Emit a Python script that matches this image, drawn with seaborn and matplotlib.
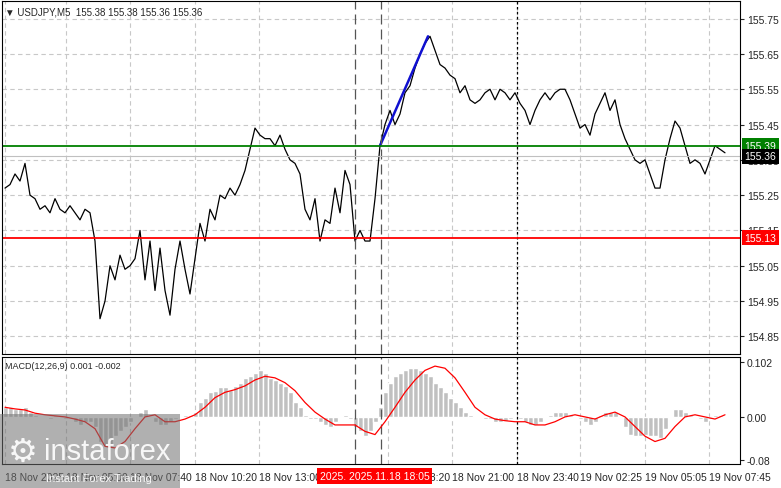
import matplotlib
matplotlib.use("Agg")
import matplotlib.pyplot as plt
import seaborn as sns
import numpy as np
import pandas as pd

price = [155.27,155.28,155.31,155.29,155.34,155.25,155.24,155.21,155.22,155.20,155.24,155.21,155.20,155.22,155.20,155.18,
         155.21,155.20,155.12,154.90,154.95,155.05,155.01,155.08,155.04,155.05,155.07,155.15,155.01,155.12,154.98,155.10,
         154.98,154.91,155.04,155.12,155.04,154.97,155.07,155.17,155.12,155.21,155.18,155.25,155.24,155.27,155.25,155.28,
         155.32,155.38,155.44,155.42,155.41,155.41,155.39,155.42,155.38,155.35,155.34,155.31,155.21,155.18,155.24,155.12,
         155.18,155.17,155.27,155.20,155.32,155.28,155.12,155.15,155.12,155.12,155.24,155.39,155.45,155.49,155.45,155.48,
         155.54,155.56,155.61,155.65,155.68,155.70,155.66,155.62,155.61,155.59,155.58,155.54,155.56,155.52,155.51,155.52,
         155.54,155.55,155.52,155.55,155.54,155.52,155.54,155.51,155.49,155.45,155.49,155.52,155.54,155.52,155.54,155.55,
         155.55,155.52,155.48,155.44,155.45,155.42,155.48,155.51,155.54,155.49,155.52,155.45,155.41,155.38,155.35,155.34,
         155.35,155.31,155.27,155.27,155.35,155.41,155.46,155.44,155.39,155.34,155.35,155.34,155.31,155.35,155.39,155.38,155.37]
hist = [0.018,0.018,0.015,0.015,0.018,0.009,0.004,0.0,0.0,-0.004,0.004,0.0,-0.004,0.0,-0.009,-0.015,-0.009,-0.009,-0.018,
        -0.046,-0.055,-0.055,-0.036,-0.027,-0.018,-0.009,0.0,0.009,0.015,0.0,-0.009,-0.015,-0.015,-0.009,-0.004,0.0,0.004,
        0.004,0.009,0.027,0.036,0.046,0.049,0.055,0.055,0.051,0.058,0.064,0.073,0.076,0.082,0.087,0.082,0.073,0.069,0.064,
        0.058,0.046,0.027,0.018,0.004,-0.004,-0.004,-0.009,-0.015,-0.018,-0.009,0.0,0.004,-0.004,-0.018,-0.027,-0.036,-0.027,
        -0.009,0.018,0.046,0.064,0.076,0.082,0.087,0.091,0.091,0.087,0.082,0.076,0.064,0.055,0.046,0.036,0.027,0.018,0.009,
        0.004,0.0,0.0,-0.004,-0.004,-0.009,-0.009,-0.007,-0.004,0.0,-0.004,-0.009,-0.015,-0.015,-0.009,0.0,0.004,0.009,0.009,
        0.009,0.004,0.0,-0.004,-0.009,-0.015,-0.009,0.004,0.009,0.009,0.009,0.0,-0.018,-0.033,-0.036,-0.036,-0.033,-0.036,
        -0.036,-0.040,-0.022,0.0,0.015,0.015,0.009,0.004,0.0,-0.004,-0.009,-0.004,0.004,0.004,0.002]
signal = [0.018,0.015,0.013,0.007,0.004,0.002,0.0,-0.004,-0.009,-0.022,-0.055,-0.058,-0.046,-0.022,0.0,0.004,-0.009,-0.009,
          -0.004,0.004,0.018,0.036,0.046,0.051,0.058,0.069,0.076,0.073,0.064,0.049,0.027,0.009,-0.004,-0.015,-0.015,-0.015,
          -0.027,-0.033,-0.009,0.018,0.046,0.069,0.087,0.095,0.091,0.073,0.046,0.018,0.004,-0.004,-0.007,-0.009,-0.009,
          -0.015,-0.015,-0.009,0.0,0.004,0.0,-0.004,0.004,0.009,0.0,-0.018,-0.036,-0.046,-0.040,-0.018,0.0,0.004,0.0,-0.004,0.004]
tick_labels = ["18 Nov 2025","18 Nov 05:00","18 Nov 07:40","18 Nov 10:20","18 Nov 13:00","18 Nov 18:20",
               "18 Nov 21:00","18 Nov 23:40","19 Nov 02:25","19 Nov 05:05","19 Nov 07:45"]
tick_idx = [0,12.2,25,38,50.8,76.6,89.4,102.4,115,128,140.8]
price_ticks = [154.85,154.95,155.05,155.15,155.25,155.35,155.45,155.55,155.65,155.75]

sns.set_style("white")
plt.rcParams['font.family'] = ['Liberation Sans', 'DejaVu Sans']
FS = 7.5
W, H = 781, 489
fig = plt.figure(figsize=(7.81, 4.89), dpi=100)
ax = fig.add_axes([2/W, (H-355)/H, 738/W, 353/H])
ax2 = fig.add_axes([2/W, (H-465)/H, 738/W, 107/H])

df = pd.DataFrame({"i": np.arange(len(price)), "p": price})
sns.lineplot(data=df, x="i", y="p", ax=ax, color="black", lw=0.9)
ax.plot([75, 84.6], [155.39, 155.70], color="#1010d0", lw=1.8)
ax.set_ylim(154.80, 155.80)
xl = (-0.6, 147)
for a in (ax, ax2):
    a.set_xlim(*xl)
    for t in tick_idx:
        a.axvline(t, color="#c8c8c8", ls=(0, (4, 3)), lw=0.8, zorder=0)
    a.axvline(70, color="#555555", ls=(0, (8, 4)), lw=0.9)
    a.axvline(75.2, color="#555555", ls=(0, (8, 4)), lw=0.9)
    a.axvline(102.4, color="black", ls=(0, (2, 2)), lw=0.9)
    a.yaxis.tick_right()
    a.set_xlabel(""); a.set_ylabel("")
    for s in a.spines.values():
        s.set_color("black"); s.set_linewidth(0.8)
for y in price_ticks:
    ax.axhline(y, color="#c8c8c8", ls=(0, (4, 3)), lw=0.8, zorder=0)
ax.set_yticks(price_ticks)
ax.set_yticklabels([f"{v:.2f}" for v in price_ticks], fontsize=FS)
ax.set_xticks([])
ax.axhline(155.39, color="#008000", lw=1.3)
ax.axhline(155.13, color="#ff0000", lw=1.3)
ax.axhline(155.36, color="#c0c0c0", lw=0.8)
for v, bg, fg in [(155.39, "#008000", "white"), (155.36, "black", "white"), (155.13, "#ff0000", "white")]:
    ax.text(1.006, v, f"{v:.2f}", transform=ax.get_yaxis_transform(), fontsize=FS, color=fg, va="center",
            ha="left", bbox=dict(boxstyle="square,pad=0.25", fc=bg, ec="none"), clip_on=False, zorder=10)
ax.text(0.004, 0.985, "▼ USDJPY,M5  155.38 155.38 155.36 155.36", transform=ax.transAxes, fontsize=7, va="top")

hdf = pd.DataFrame({"i": np.arange(len(hist)), "h": hist})
ax2.bar(hdf["i"], hdf["h"], width=1.0, color="#c0c0c0")
sx = np.arange(len(signal)) * 2
ax2.plot(sx, signal, color="#ff0000", lw=0.9)
ax2.set_ylim(-0.088, 0.112)
ax2.set_yticks([-0.08, 0.0, 0.102])
ax2.set_yticklabels(["-0.08", "0.00", "0.102"], fontsize=FS)
ax2.set_xticks(tick_idx)
ax2.set_xticklabels(tick_labels, fontsize=FS)
for lab in ax2.get_xticklabels():
    lab.set_ha("left")
ax2.tick_params(axis="x", length=3, pad=3)
ax2.tick_params(axis="y", length=3, pad=2)
ax.tick_params(axis="y", length=3, pad=2)
ax2.text(0.004, 0.96, "MACD(12,26,9) 0.001 -0.002", transform=ax2.transAxes, fontsize=6.5, va="top")
fig.text(320/W, 1-477/H, "2025. 2025.11.18 18:05", fontsize=FS, color="white", va="center",
         bbox=dict(boxstyle="square,pad=0.25", fc="#ff0000", ec="none"), zorder=10)
# watermark
fig.patches.append(plt.Rectangle((0, 1-489/H), 180/W, 74/H, transform=fig.transFigure,
                                 fc="#707070", alpha=0.55, ec="none"))
fig.text(8/W, 1-452/H, "⚙", fontsize=24, color="white", alpha=0.9, va="center", family="DejaVu Sans")
fig.text(44/W, 1-452/H, "instaforex", fontsize=21, color="white", alpha=0.9, va="center")
fig.text(46/W, 1-479/H, "Instant Forex Trading", fontsize=8, color="white", alpha=0.9, va="center")
fig.savefig("out.png", dpi=100)
